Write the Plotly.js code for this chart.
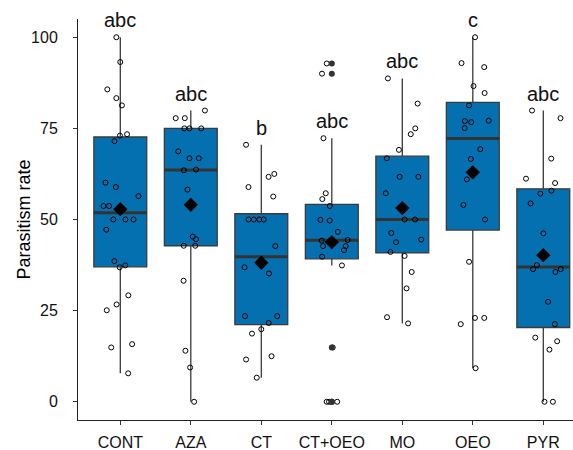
<!DOCTYPE html>
<html>
<head>
<meta charset="utf-8">
<script src="https://cdn.plot.ly/plotly-3.0.1.min.js"></script>
<style>html,body{margin:0;padding:0;background:#fff;}#chart{width:573px;height:450px;}</style>
</head>
<body>
<div id="chart"></div>
<script>
// ---- Data ----
const categories = ['CONT', 'AZA', 'CT', 'CT+OEO', 'MO', 'OEO', 'PYR'];
const letters = ['abc', 'abc', 'b', 'abc', 'abc', 'c', 'abc'];
const yTitle = 'Parasitism rate';

const CONT = [100, 93.2, 85.7, 83.3, 81.3, 73.4, 73.0, 71.5, 60.1, 58.9, 56.4, 53.7, 53.7, 50, 50, 50, 47.2, 38.6, 37.4, 36.9, 29.2, 26.7, 25.1, 15.8, 14.9, 7.8];
const AZA = [79.9, 77.8, 77.8, 75, 75, 75, 68.7, 66.8, 66.8, 63.7, 63.5, 58.2, 45.3, 44.6, 42.8, 42.8, 33.2, 14.0, 9.4, 0];
const CT = [70.5, 62.5, 61.7, 58.9, 56.3, 50, 50, 50, 50, 42.7, 36.9, 35.2, 23.5, 23.5, 21.6, 19.9, 18.7, 12.5, 11.6, 6.6];
const CT_OEO = [92.8, 90.0, 72.3, 57.2, 55.6, 53.7, 49.9, 49.7, 46.6, 44.4, 44.2, 42.7, 42.7, 41.6, 39.8, 37.4, 14.9, 0, 0, 0];
const MO = [88.7, 81.8, 75.0, 73.4, 69.1, 66.8, 61.7, 61.7, 57.2, 50, 50, 46.3, 44.5, 43.8, 41.1, 40.0, 35.6, 31.1, 23.2, 21.5];
const OEO = [100, 92.9, 91.8, 86.6, 84.7, 81.3, 77.1, 77.0, 76.7, 75.1, 69.3, 66.6, 61.0, 54.0, 50.0, 38.4, 23.0, 23.0, 21.3, 9.2];
const PYR = [79.9, 77.8, 66.7, 61.2, 60.0, 57.9, 57.1, 54.4, 46.2, 37.5, 36.4, 36.4, 35.6, 27.4, 21.3, 17.6, 16.6, 14.3, 0, 0];

const groups = [CONT, AZA, CT, CT_OEO, MO, OEO, PYR];
const yTicks = [0, 25, 50, 75, 100];

// ---- Statistics (ggplot2-style, quantile type 7) ----
function quant(arr, p) {
  const s = arr.slice().sort((a, b) => a - b);
  const h = (s.length - 1) * p;
  const lo = Math.floor(h);
  const hi = Math.min(lo + 1, s.length - 1);
  return s[lo] + (h - lo) * (s[hi] - s[lo]);
}
const pos = categories.map((c, i) => i + 1);
const stats = groups.map(g => {
  const q1 = quant(g, 0.25), med = quant(g, 0.5), q3 = quant(g, 0.75);
  const iqr = q3 - q1;
  const lf = q1 - 1.5 * iqr, uf = q3 + 1.5 * iqr;
  const inside = g.filter(v => v >= lf && v <= uf);
  const out = g.filter(v => v < lf || v > uf);
  return {
    q1, med, q3,
    lo: Math.min(...inside), hi: Math.max(...inside),
    out,
    mean: g.reduce((a, b) => a + b, 0) / g.length
  };
});

const FONT = 'Liberation Sans, Arial, sans-serif';
const BOXW = 0.75;

const traces = [];
// boxes
traces.push({
  type: 'box',
  x: pos,
  q1: stats.map(s => s.q1),
  median: stats.map(s => s.med),
  q3: stats.map(s => s.q3),
  lowerfence: stats.map(s => s.lo),
  upperfence: stats.map(s => s.hi),
  width: BOXW,
  whiskerwidth: 0,
  boxpoints: false,
  fillcolor: '#0570B0',
  line: {color: '#3a3a3a', width: 1.3},
  hoverinfo: 'skip',
  showlegend: false
});
// thicker median lines (degenerate boxes)
traces.push({
  type: 'box',
  x: pos,
  q1: stats.map(s => s.med),
  median: stats.map(s => s.med),
  q3: stats.map(s => s.med),
  lowerfence: stats.map(s => s.med),
  upperfence: stats.map(s => s.med),
  width: BOXW,
  whiskerwidth: 0,
  boxpoints: false,
  fillcolor: 'rgba(0,0,0,0)',
  line: {color: '#333333', width: 3},
  hoverinfo: 'skip',
  showlegend: false
});
// jittered raw observations
const jx = [], jy = [];
groups.forEach((g, i) => g.forEach(v => { jx.push(pos[i]); jy.push(v); }));
traces.push({
  type: 'box',
  x: jx,
  y: jy,
  width: BOXW,
  boxpoints: 'all',
  jitter: 0.8,
  pointpos: 0,
  fillcolor: 'rgba(0,0,0,0)',
  line: {color: 'rgba(0,0,0,0)', width: 0},
  whiskerwidth: 0,
  marker: {symbol: 'circle-open', size: 5, color: '#000', line: {width: 1, color: '#000'}},
  hoverinfo: 'y',
  showlegend: false
});
// outliers
const ox = [], oy = [];
stats.forEach((s, i) => s.out.forEach(v => { ox.push(pos[i]); oy.push(v); }));
traces.push({
  type: 'scatter', mode: 'markers',
  x: ox, y: oy,
  marker: {symbol: 'circle', size: 6, color: '#333333'},
  hoverinfo: 'y', showlegend: false
});
// means
traces.push({
  type: 'scatter', mode: 'markers',
  x: pos, y: stats.map(s => s.mean),
  marker: {symbol: 'diamond', size: 11, color: '#000'},
  hoverinfo: 'y', showlegend: false
});

const annotations = letters.map((t, i) => ({
  x: pos[i], y: stats[i].hi, xref: 'x', yref: 'y',
  text: t, showarrow: false, yanchor: 'bottom', xanchor: 'center',
  yshift: 4,
  font: {family: FONT, size: 20, color: '#111'}
}));
// y-axis title as a rotated annotation (placed left of tick labels)
annotations.push({
  xref: 'paper', yref: 'paper', x: -0.111, y: 0.5,
  xanchor: 'center', yanchor: 'middle', textangle: -90,
  text: yTitle, showarrow: false,
  font: {family: FONT, size: 18, color: '#000'}
});

const layout = {
  width: 573, height: 450,
  margin: {l: 78, r: 0, t: 19, b: 30},
  paper_bgcolor: '#fff', plot_bgcolor: '#fff',
  showlegend: false,
  boxmode: 'overlay',
  font: {family: FONT, size: 16, color: '#000'},
  xaxis: {
    range: [0.4, 0.4 + 495 / 70.5],
    tickmode: 'array', tickvals: pos, ticktext: categories,
    showgrid: false, zeroline: false,
    showline: true, linecolor: '#222', linewidth: 1,
    ticks: 'outside', ticklen: 4, tickcolor: '#333', tickwidth: 1,
    tickfont: {family: FONT, size: 16, color: '#111'},
    ticklabelstandoff: 4
  },
  yaxis: {
    range: [-5, 105],
    tickmode: 'array', tickvals: yTicks, ticktext: yTicks.map(String),
    showgrid: false, zeroline: false,
    showline: true, linecolor: '#222', linewidth: 1,
    ticks: 'outside', ticklen: 4, tickcolor: '#333', tickwidth: 1,
    tickfont: {family: FONT, size: 16, color: '#111'},
    ticklabelstandoff: 12,
    automargin: false
  },
  annotations: annotations
};

Plotly.newPlot('chart', traces, layout, {displayModeBar: false, staticPlot: true});
</script>
</body>
</html>
